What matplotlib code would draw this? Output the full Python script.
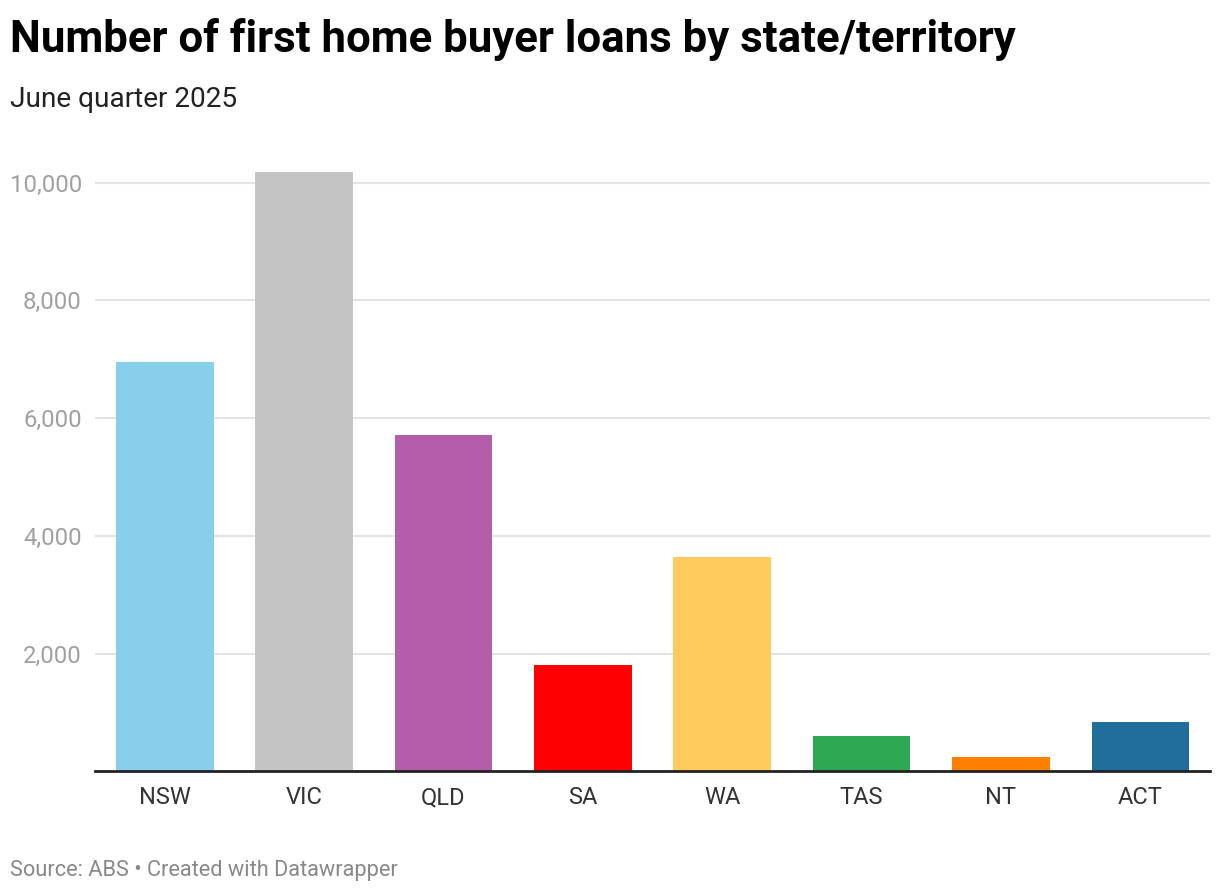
import matplotlib
matplotlib.use("Agg")
import matplotlib.pyplot as plt
from matplotlib.ticker import FuncFormatter

# datos
states = ["NSW", "VIC", "QLD", "SA", "WA", "TAS", "NT", "ACT"]
loans = [6955, 10185, 5715, 1810, 3645, 600, 245, 840]
colors = ["#88cfeb", "#c4c4c4", "#b45eab", "#ff0000", "#ffca5c", "#2ea853", "#ff7f00", "#1f6e9c"]
yticks = [2000, 4000, 6000, 8000, 10000]

title = "Number of first home buyer loans by state/territory"
subtitle = "June quarter 2025"
source = "Source: ABS \u2022 Created with Datawrapper"

plt.rcParams["font.family"] = ["Roboto", "DejaVu Sans"]

fig = plt.figure(figsize=(12.2, 8.92), dpi=100)
ax = fig.add_axes([0.0779, 0.1351, 0.9139, 0.6799])

ax.bar(range(len(states)), loans, width=0.70, color=colors, zorder=2)

ax.set_xlim(-0.5, len(states) - 0.5)
ax.set_ylim(0, 10300)
ax.set_yticks(yticks)
ax.yaxis.set_major_formatter(FuncFormatter(lambda v, p: f"{int(v):,}"))
ax.set_xticks(range(len(states)))
ax.set_xticklabels(states)

ax.grid(axis="y", color="#e3e3e3", linewidth=1.5, zorder=0)
for s in ["top", "right", "left"]:
    ax.spines[s].set_visible(False)
ax.spines["bottom"].set_color("#222222")
ax.spines["bottom"].set_linewidth(2)
ax.spines["bottom"].set_zorder(3)

ax.tick_params(axis="y", length=0, pad=9.5, labelsize=17.2, labelcolor="#a0a0a0")
ax.tick_params(axis="x", length=0, pad=10.5, labelsize=17, labelcolor="#333333")

fig.text(0.008, 1 - 52 / 892, title, fontsize=31.5, fontweight="bold", color="#000000", va="baseline")
fig.text(0.008, 1 - 107 / 892, subtitle, fontsize=20.2, color="#222222", va="baseline")
fig.text(0.008, 1 - 876 / 892, source, fontsize=15.7, color="#888888", va="baseline")

fig.savefig("out.png", dpi=100)
